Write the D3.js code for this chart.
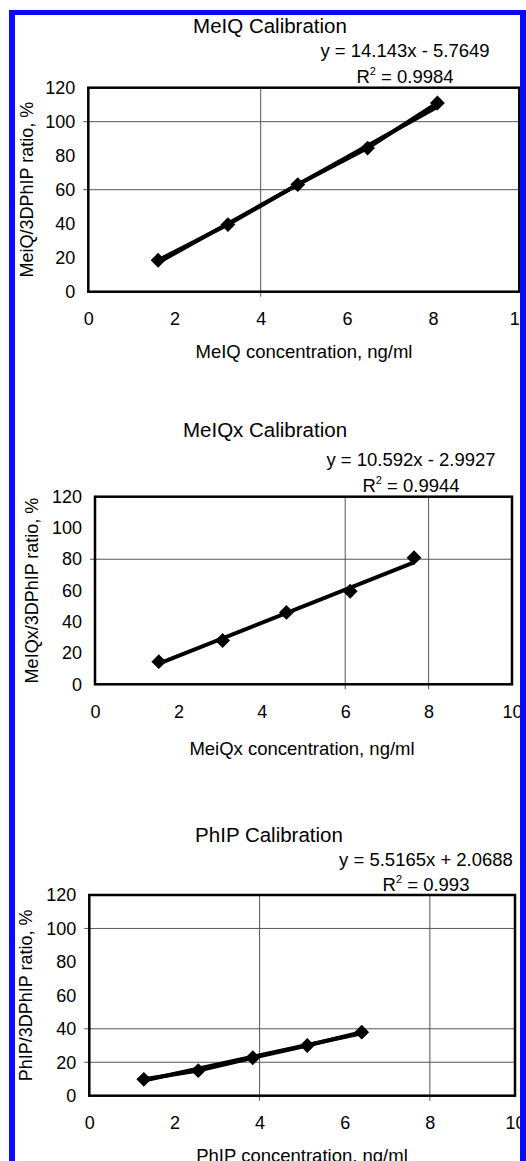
<!DOCTYPE html>
<html>
<head>
<meta charset="utf-8">
<script src="https://cdn.jsdelivr.net/npm/d3@7"></script>
<style>
  body { margin: 0; background: white; }
  svg { display: block; }
  text { font-family: "Liberation Sans", Arial, sans-serif; fill: #000; }
</style>
</head>
<body>
<svg width="526" height="1161"></svg>
<script>
// calibration data
const meiqConc = [1.62, 3.24, 4.86, 6.48, 8.1];
const meiqRatio = [18.5, 39.5, 63, 84.5, 111];
const meiqxConc = [1.53, 3.06, 4.59, 6.12, 7.65];
const meiqxRatio = [14.5, 28, 46, 59.5, 81];
const phipConc = [1.28, 2.56, 3.84, 5.12, 6.4];
const phipRatio = [9.8, 15, 22.7, 30, 38];

const slopes = [14.143, 10.592, 5.5165];
const intercepts = [-5.7649, -2.9927, 2.0688];
const eqTexts = ['y = 14.143x - 5.7649', 'y = 10.592x - 2.9927', 'y = 5.5165x + 2.0688'];
const r2Texts = [' = 0.9984', ' = 0.9944', ' = 0.993'];
const titles = ['MeIQ Calibration', 'MeIQx Calibration', 'PhIP Calibration'];
const xLabels = ['MeIQ concentration, ng/ml', 'MeiQx concentration, ng/ml', 'PhIP concentration, ng/ml'];
const yLabels = ['MeiQ/3DPhIP ratio, %', 'MeIQx/3DPhIP ratio, %', 'PhIP/3DPhIP ratio, %'];

const xTicks = [0, 2, 4, 6, 8, 10];
const yTicks = [0, 20, 40, 60, 80, 100, 120];
// gridlines that survive in the picture
const gridX = [[4], [6, 8], [4, 8]];
const gridY = [[60, 100], [80], [20, 40, 100]];

const svg = d3.select('svg');
const width = +svg.attr('width');
const height = +svg.attr('height');

const layouts = [
  {l: 88.3, r: 519.3, t: 87.7, b: 291.7, titleX: 270, titleY: 33, eqX: 405, eqY: 57, r2Y: 83, yLabX: 33, xLabX: 304, xLabY: 358, connect: true},
  {l: 95, r: 512, t: 496.7, b: 684.3, titleX: 265, titleY: 437, eqX: 411, eqY: 466, r2Y: 492, yLabX: 38, xLabX: 302, xLabY: 755, connect: false},
  {l: 89.3, r: 515, t: 895, b: 1095.7, titleX: 269, titleY: 842, eqX: 426, eqY: 866, r2Y: 891, yLabX: 32, xLabX: 302, xLabY: 1162, connect: true}
];

const series = [
  meiqConc.map((c, i) => ({x: c, y: meiqRatio[i]})),
  meiqxConc.map((c, i) => ({x: c, y: meiqxRatio[i]})),
  phipConc.map((c, i) => ({x: c, y: phipRatio[i]}))
];

const render = (k) => {
  const L = layouts[k];
  const data = series[k];
  const xScale = d3.scaleLinear().domain([0, 10]).range([L.l, L.r]);
  const yScale = d3.scaleLinear().domain([0, 120]).range([L.b, L.t]);
  const g = svg.append('g');

  // gridlines, sticking out a little like tick marks
  g.selectAll('.gx').data(gridX[k]).enter().append('line')
    .attr('x1', d => xScale(d)).attr('x2', d => xScale(d))
    .attr('y1', L.t).attr('y2', L.b + 5)
    .attr('stroke', '#555').attr('stroke-width', 1);
  g.selectAll('.gy').data(gridY[k]).enter().append('line')
    .attr('x1', L.l - 5).attr('x2', L.r)
    .attr('y1', d => yScale(d)).attr('y2', d => yScale(d))
    .attr('stroke', '#555').attr('stroke-width', 1);

  g.append('rect')
    .attr('x', L.l).attr('y', L.t)
    .attr('width', L.r - L.l).attr('height', L.b - L.t)
    .attr('fill', 'none').attr('stroke', '#000').attr('stroke-width', 2.5);

  const yAxis = d3.axisLeft(yScale).tickValues(yTicks).tickSize(0).tickPadding(13).tickFormat(d3.format('d'));
  const xAxis = d3.axisBottom(xScale).tickValues(xTicks).tickSize(0).tickPadding(21).tickFormat(d3.format('d'));
  const ya = g.append('g').attr('transform', `translate(${L.l},0)`).call(yAxis);
  const xa = g.append('g').attr('transform', `translate(0,${L.b})`).call(xAxis);
  [ya, xa].forEach(a => {
    a.select('.domain').remove();
    a.selectAll('text').style('font-size', '18px').attr('font-family', null);
  });

  // trendline over the data range
  const ext = d3.extent(data, d => d.x);
  const trend = ext.map(x => ({x: x, y: slopes[k] * x + intercepts[k]}));
  const line = d3.line().x(d => xScale(d.x)).y(d => yScale(d.y));
  g.append('path').datum(trend).attr('d', line)
    .attr('fill', 'none').attr('stroke', '#000').attr('stroke-width', 4);
  if (L.connect) {
    g.append('path').datum(data).attr('d', line)
      .attr('fill', 'none').attr('stroke', '#000').attr('stroke-width', 4)
      .attr('stroke-linejoin', 'round');
  }

  const diamond = d3.symbol().type(d3.symbolSquare).size(110);
  g.selectAll('.pt').data(data).enter().append('path')
    .attr('d', diamond)
    .attr('transform', d => `translate(${xScale(d.x)},${yScale(d.y)}) rotate(45)`)
    .attr('fill', '#000');

  g.append('text').attr('x', L.titleX).attr('y', L.titleY)
    .attr('text-anchor', 'middle').style('font-size', '20.5px').text(titles[k]);
  g.append('text').attr('x', L.eqX).attr('y', L.eqY)
    .attr('text-anchor', 'middle').style('font-size', '18.5px').text(eqTexts[k]);
  const r2 = g.append('text').attr('x', L.eqX).attr('y', L.r2Y)
    .attr('text-anchor', 'middle').style('font-size', '18.5px');
  r2.append('tspan').text('R');
  r2.append('tspan').attr('dy', -8).style('font-size', '11px').text('2');
  r2.append('tspan').attr('dy', 8).text(r2Texts[k]);

  g.append('text').attr('x', L.xLabX).attr('y', L.xLabY)
    .attr('text-anchor', 'middle').style('font-size', '18.5px').text(xLabels[k]);
  g.append('text')
    .attr('transform', `translate(${L.yLabX},${(L.t + L.b) / 2}) rotate(-90)`)
    .attr('text-anchor', 'middle').style('font-size', '18px').text(yLabels[k]);
};

[0, 1, 2].forEach(render);

// blue frame drawn on top, it cuts the right edge of the charts
const blue = '#0a0aff';
svg.append('rect').attr('x', 9).attr('y', 10).attr('width', 6).attr('height', height - 10).attr('fill', blue);
svg.append('rect').attr('x', 9).attr('y', 10).attr('width', width - 9).attr('height', 5).attr('fill', blue);
svg.append('rect').attr('x', 520).attr('y', 10).attr('width', width - 520).attr('height', height - 10).attr('fill', blue);
</script>
</body>
</html>
